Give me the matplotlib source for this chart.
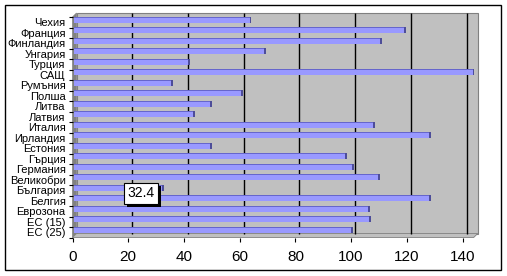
import numpy as np
import matplotlib
matplotlib.use("Agg")
import matplotlib.pyplot as plt
from matplotlib.patches import Rectangle, Polygon
from matplotlib.transforms import offset_copy
import matplotlib.patheffects as pe

plt.rcParams['font.family'] = ['Liberation Sans', 'DejaVu Sans']

# categories top to bottom, as in the picture
countries = ['Чехия', 'Франция', 'Финландия', 'Унгария', 'Турция', 'САЩ',
             'Румъния', 'Полша', 'Литва', 'Латвия', 'Италия', 'Ирландия',
             'Естония', 'Гърция', 'Германия', 'Великобри', 'България',
             'Белгия', 'Еврозона', 'ЕС (15)', 'ЕС (25)']
values = [63.7, 119.1, 110.5, 68.8, 41.7, 143.9, 35.5, 60.6, 49.5, 43.4,
          108.0, 128.1, 49.5, 98.1, 100.4, 109.8, 32.4, 128.1, 106.3, 106.7, 100.0]
xticks = [0, 20, 40, 60, 80, 100, 120, 140]
labelled = 'България'

W, H = 507, 276
fig = plt.figure(figsize=(W / 100, H / 100), dpi=100)

# outer chart frame
fig.patches.append(Rectangle((5 / W, 6 / H), 496 / W, 265 / H, transform=fig.transFigure,
                             fill=False, edgecolor='black', lw=1))

# front plane of the 3d plot
x0, x1, ytop, ybot = 72.5, 473.7, 17, 237.5
ax = fig.add_axes([x0 / W, (H - ybot) / H, (x1 - x0) / W, (ybot - ytop) / H])
ax.set_facecolor('none')
for s in ax.spines.values():
    s.set_visible(False)

y = np.arange(len(countries))
vals = np.array(values)
ax.set_xlim(0, 144)
ax.set_ylim(len(countries) - 0.5, -0.5)

depth = 4  # px
dx = depth / (x1 - x0)
dy = depth / (ybot - ytop)
back = offset_copy(ax.transAxes, fig=fig, x=depth, y=depth, units='dots')

# back wall, side wall, floor
ax.add_patch(Rectangle((0, 0), 1, 1, transform=back, facecolor='#c0c0c0',
                       edgecolor='#808080', lw=0.8, zorder=0, clip_on=False))
ax.add_patch(Polygon([(0, 0), (dx, dy), (dx, 1 + dy), (0, 1)], closed=True,
                     transform=ax.transAxes, facecolor='#808080', edgecolor='#808080',
                     lw=0.5, zorder=0.5, clip_on=False))
ax.add_patch(Polygon([(0, 0), (dx, dy), (1 + dx, dy), (1, 0)], closed=True,
                     transform=ax.transAxes, facecolor='#c0c0c0', edgecolor='#808080',
                     lw=0.6, zorder=0.5, clip_on=False))

# gridlines on the back wall
ax.vlines(xticks[1:], 0, 1, colors='black', lw=1,
          transform=offset_copy(ax.get_xaxis_transform(), fig=fig, x=depth, y=depth, units='dots'),
          zorder=1, clip_on=False)

# bars, sitting halfway in depth
bh = 0.57
mid = offset_copy(ax.transData, fig=fig, x=1.5, y=2.5, units='dots')
ax.barh(y, vals, height=bh, color='#9999ff', lw=0, transform=mid, zorder=3)
# top face
ax.barh(y - bh / 2 + 0.05, vals, height=0.12, color='#6666cc', lw=0, transform=mid, zorder=4)
# end face
ax.barh(y, [0.7] * len(vals), left=vals - 0.7, height=bh, color='#4d4d99',
        lw=0, transform=mid, zorder=4)

# data label
i = countries.index(labelled)
t = ax.annotate(f'{values[i]:.1f}', xy=(values[i], i), xytext=(-22, -3),
                textcoords='offset pixels', ha='center', va='center', fontsize=10,
                bbox=dict(boxstyle='square,pad=0.25', facecolor='white', edgecolor='black', lw=0.8),
                zorder=6)
t.get_bbox_patch().set_path_effects([
    pe.SimplePatchShadow(offset=(2.2, -2.2), shadow_rgbFace='black', alpha=1), pe.Normal()])

ax.set_xticks(xticks)
ax.set_xticklabels([str(v) for v in xticks], fontsize=11)
ax.tick_params(axis='x', length=3, width=0.8, pad=6, color='black')
ax.set_yticks(y)
ax.set_yticklabels(countries, fontsize=8)
ax.set_yticks(np.arange(len(countries) + 1) - 0.5, minor=True)
ax.tick_params(axis='y', which='major', length=0, pad=5)
ax.tick_params(axis='y', which='minor', length=3, width=0.8, color='black')

fig.savefig('out.png', dpi=100)
